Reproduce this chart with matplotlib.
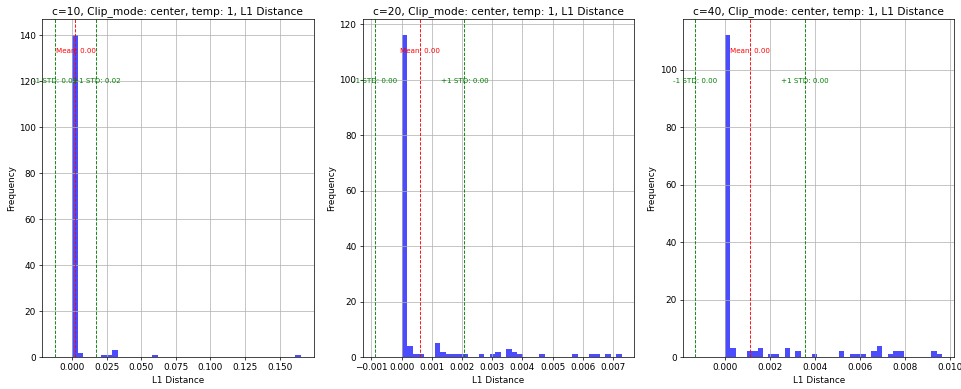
import matplotlib
matplotlib.use('Agg')
import matplotlib.pyplot as plt
import numpy as np

# histogram counts, 40 bins from 0 to bin_max
titles = ['c=10, Clip_mode: center, temp: 1, L1 Distance',
          'c=20, Clip_mode: center, temp: 1, L1 Distance',
          'c=40, Clip_mode: center, temp: 1, L1 Distance']
bin_max = [0.1657, 0.00728, 0.00966]
counts_c10 = [140, 2, 0, 0, 0, 1, 1, 3, 0, 0,
              0, 0, 0, 0, 1, 0, 0, 0, 0, 0,
              0, 0, 0, 0, 0, 0, 0, 0, 0, 0,
              0, 0, 0, 0, 0, 0, 0, 0, 0, 1]
counts_c20 = [116, 4, 1, 1, 0, 0, 5, 2, 1, 1,
              1, 1, 0, 0, 1, 0, 1, 2, 0, 3,
              2, 1, 0, 0, 0, 1, 0, 0, 0, 0,
              0, 1, 0, 0, 1, 1, 0, 1, 0, 1]
counts_c40 = [112, 3, 0, 0, 2, 2, 3, 0, 1, 1,
              0, 3, 0, 2, 0, 0, 1, 0, 0, 0,
              0, 2, 0, 1, 1, 1, 0, 2, 4, 0,
              1, 2, 2, 0, 0, 0, 0, 0, 2, 1]
means = [0.0025, 0.0006, 0.00112]
stds = [0.0151, 0.00148, 0.00244]

all_counts = [counts_c10, counts_c20, counts_c40]

fig, axes = plt.subplots(1, 3, figsize=(961/64, 389/64), dpi=64)
fig.subplots_adjust(left=0.044, right=0.993, top=0.951, bottom=0.082, wspace=0.181)

for ax, title, bmax, counts, mean, std in zip(axes, titles, bin_max, all_counts, means, stds):
    edges = np.linspace(0, bmax, len(counts) + 1)
    ax.hist(edges[:-1], bins=edges, weights=counts, color='blue', alpha=0.7)
    ax.axvline(mean, color='red', linestyle='dashed', linewidth=1)
    ax.axvline(mean - std, color='green', linestyle='dashed', linewidth=1)
    ax.axvline(mean + std, color='green', linestyle='dashed', linewidth=1)
    top = ax.get_ylim()[1]
    ax.text(mean, top*0.9, f'Mean: {mean:.2f}', color='red', ha='center', fontsize=8)
    ax.text(mean - std, top*0.81, f'-1 STD: {std:.2f}', color='green', ha='center', fontsize=8)
    ax.text(mean + std, top*0.81, f'+1 STD: {std:.2f}', color='green', ha='center', fontsize=8)
    ax.set_title(title)
    ax.set_xlabel('L1 Distance')
    ax.set_ylabel('Frequency')
    ax.grid(True)

fig.savefig('out.png', dpi=64)
